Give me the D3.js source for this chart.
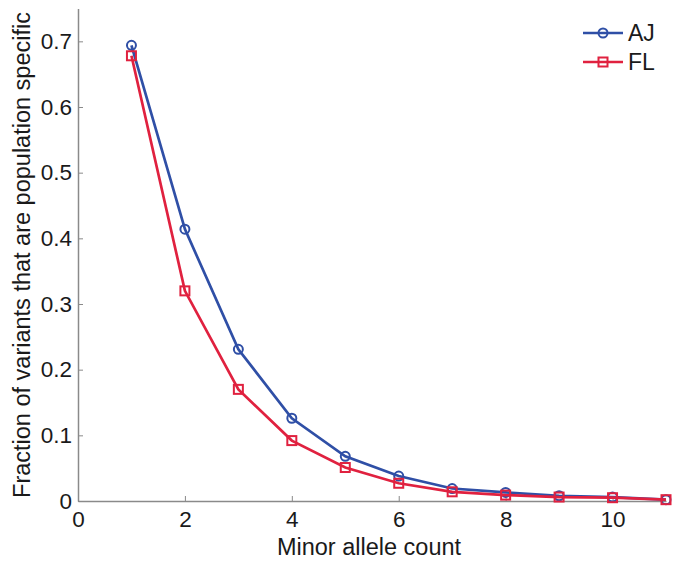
<!DOCTYPE html>
<html><head><meta charset="utf-8">
<script src="https://cdn.jsdelivr.net/npm/d3@7"></script>
<style>body{margin:0;background:#fff}svg{display:block}text{font-family:"Liberation Sans",Arial,sans-serif;fill:#1a1a1a}</style>
</head><body>
<script>
const counts = [1,2,3,4,5,6,7,8,9,10,11];
const ajValues = [0.694,0.414,0.231,0.126,0.068,0.038,0.019,0.013,0.008,0.006,0.002];
const flValues = [0.678,0.320,0.170,0.092,0.051,0.027,0.014,0.009,0.006,0.005,0.002];
const xTicks = [0,2,4,6,8,10];
const yTicks = [0,0.1,0.2,0.3,0.4,0.5,0.6,0.7];
const seriesNames = ["AJ","FL"];
const colors = {AJ:"#2f4fa6", FL:"#e0213f"};

const W=676,H=565;
const svg=d3.select("body").append("svg").attr("width",W).attr("height",H);
const x=d3.scaleLinear().domain([0,11]).range([78,666]);
const y=d3.scaleLinear().domain([0,0.75]).range([501,8.5]);
const axisColor="#8a8a8a";

// axes
const xa=svg.append("g").attr("transform",`translate(0,${y(0)})`)
  .call(d3.axisBottom(x).tickValues(xTicks).tickSizeInner(-5).tickSizeOuter(0).tickPadding(8).tickFormat(d3.format("d")));
const ya=svg.append("g").attr("transform",`translate(${x(0)},0)`)
  .call(d3.axisLeft(y).tickValues(yTicks).tickSizeInner(-5).tickSizeOuter(0).tickPadding(6).tickFormat(d=>d===0?"0":d3.format(".1f")(d)));
[xa,ya].forEach(g=>{
  g.select(".domain").attr("stroke",axisColor).attr("stroke-width",1.5);
  g.selectAll(".tick line").attr("stroke",axisColor).attr("stroke-width",1);
  g.selectAll(".tick text").attr("font-size",22.5).attr("font-family","Liberation Sans, Arial, sans-serif").attr("fill","#1a1a1a");
});
xa.selectAll(".tick text").attr("dy","0.8em");

svg.append("text").attr("x",369).attr("y",555).attr("text-anchor","middle").attr("font-size",23.5).text("Minor allele count");
svg.append("text").attr("transform","translate(30,255) rotate(-90)").attr("text-anchor","middle").attr("font-size",23.5).text("Fraction of variants that are population specific");

const data={AJ:ajValues, FL:flValues};
const line=d3.line().x((d,i)=>x(counts[i])).y(d=>y(d));
seriesNames.forEach(name=>{
  const c=colors[name];
  svg.append("path").datum(data[name]).attr("d",line).attr("fill","none").attr("stroke",c).attr("stroke-width",2.7);
  const g=svg.append("g");
  data[name].forEach((v,i)=>{
    if(name==="AJ") g.append("circle").attr("cx",x(counts[i])).attr("cy",y(v)).attr("r",4.5).attr("fill","none").attr("stroke",c).attr("stroke-width",2);
    else g.append("rect").attr("x",x(counts[i])-4.5).attr("y",y(v)-4.5).attr("width",9).attr("height",9).attr("fill","none").attr("stroke",c).attr("stroke-width",2);
  });
});

// legend
seriesNames.forEach((name,i)=>{
  const c=colors[name], ly=33+i*29;
  svg.append("line").attr("x1",583).attr("x2",623).attr("y1",ly).attr("y2",ly).attr("stroke",c).attr("stroke-width",2.7);
  if(name==="AJ") svg.append("circle").attr("cx",603).attr("cy",ly).attr("r",4.5).attr("fill","none").attr("stroke",c).attr("stroke-width",2);
  else svg.append("rect").attr("x",598.5).attr("y",ly-4.5).attr("width",9).attr("height",9).attr("fill","none").attr("stroke",c).attr("stroke-width",2);
  svg.append("text").attr("x",628).attr("y",ly+8).attr("font-size",23).text(name);
});
</script>
</body></html>
